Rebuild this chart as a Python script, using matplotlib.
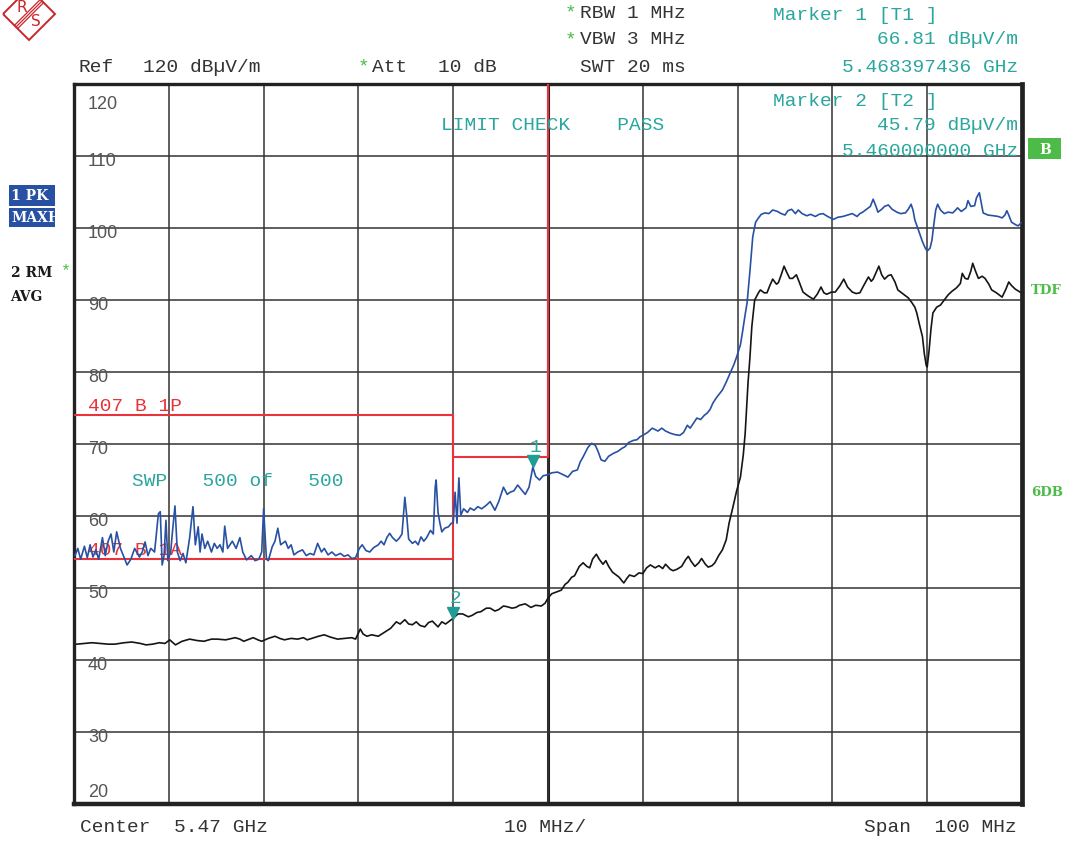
import matplotlib.pyplot as plt
from matplotlib.patches import Polygon, Rectangle
from matplotlib.transforms import offset_copy, blended_transform_factory

W, H = 1069, 843

# sweep settings
START_GHZ = 5.42
SPAN_MHZ = 100
REF_LEVEL = 120
BOTTOM_LEVEL = 20
y_labels = [120, 110, 100, 90, 80, 70, 60, 50, 40, 30, 20]

# trace 1 (PK, max hold): (MHz from span start, dBuV/m)
pk_points = [
    (0.1, 54.5), (0.4, 55.5), (0.7, 54.0), (1.1, 55.8), (1.4, 54.2), (1.7, 56.0),
    (2.0, 54.3), (2.3, 55.3), (2.6, 54.0), (3.0, 57.0), (3.3, 54.5), (3.6, 56.5),
    (3.9, 57.5), (4.2, 55.0), (4.5, 57.8), (4.9, 55.5), (5.3, 54.2), (5.6, 53.2),
    (6.0, 54.0), (6.4, 55.5), (6.9, 54.3), (7.2, 55.0), (7.5, 56.4), (7.8, 54.5),
    (8.1, 55.5), (8.5, 55.0), (8.9, 60.3), (9.1, 60.6), (9.3, 53.2), (9.5, 54.5),
    (9.7, 59.4), (9.9, 53.8), (10.2, 55.0), (10.4, 58.0), (10.65, 61.4), (10.9, 55.0),
    (11.2, 53.8), (11.5, 54.8), (11.8, 53.5), (12.2, 57.0), (12.55, 61.3), (12.8, 56.0),
    (13.1, 58.5), (13.3, 55.0), (13.5, 57.5), (13.8, 55.5), (14.1, 56.5), (14.5, 55.0),
    (14.8, 56.2), (15.1, 55.5), (15.4, 56.0), (15.7, 55.0), (15.9, 58.6), (16.2, 55.5),
    (16.7, 56.5), (17.1, 55.5), (17.5, 57.0), (17.8, 55.0), (18.2, 53.9), (18.7, 54.5),
    (19.1, 53.8), (19.5, 54.0), (19.8, 55.0), (20.0, 61.0), (20.3, 54.0), (20.5, 53.8),
    (20.9, 55.7), (21.2, 56.5), (21.5, 58.3), (21.8, 56.0), (22.3, 56.5), (22.6, 55.5),
    (22.9, 56.0), (23.2, 54.6), (23.6, 55.0), (24.1, 55.3), (24.5, 54.5), (24.9, 54.8),
    (25.3, 54.6), (25.7, 56.2), (26.1, 55.0), (26.4, 55.5), (26.8, 54.6), (27.2, 55.0),
    (27.6, 54.5), (28.1, 54.8), (28.5, 54.4), (28.9, 54.6), (29.3, 54.1), (29.7, 54.2),
    (30.1, 55.5), (30.4, 56.0), (30.8, 55.2), (31.2, 55.0), (31.6, 55.6), (32.1, 56.0),
    (32.4, 56.5), (32.7, 56.0), (33.0, 57.0), (33.3, 57.6), (33.6, 57.0), (34.0, 56.5),
    (34.3, 56.9), (34.6, 57.5), (34.9, 62.6), (35.1, 60.0), (35.3, 56.8), (35.7, 56.2),
    (36.0, 56.5), (36.3, 56.0), (36.6, 57.1), (36.9, 56.5), (37.2, 57.0), (37.6, 58.0),
    (37.9, 57.5), (38.1, 64.0), (38.2, 65.0), (38.4, 60.5), (38.6, 59.0), (38.8, 57.8),
    (39.1, 58.3), (39.5, 58.5), (39.8, 59.0), (40.0, 59.0), (40.2, 63.3), (40.4, 59.0),
    (40.6, 65.3), (40.8, 60.1), (41.1, 61.0), (41.5, 60.5), (41.8, 61.1), (42.2, 60.8),
    (42.6, 61.3), (43.0, 61.0), (43.5, 61.5), (43.9, 62.0), (44.4, 60.8), (44.8, 62.0),
    (45.3, 64.0), (45.7, 63.0), (46.0, 63.3), (46.4, 63.5), (46.8, 64.3), (47.3, 63.5),
    (47.6, 63.0), (48.0, 64.0), (48.4, 66.8), (48.7, 65.5), (49.1, 65.0), (49.5, 65.6),
    (49.9, 65.7), (50.4, 66.0), (51.0, 66.1), (51.5, 65.8), (52.1, 65.4), (52.6, 66.2),
    (53.1, 66.4), (53.4, 67.5), (53.7, 68.2), (54.2, 69.5), (54.6, 70.1), (55.0, 69.8),
    (55.3, 68.9), (55.6, 67.8), (56.0, 67.6), (56.4, 68.3), (56.9, 68.7), (57.4, 69.0),
    (57.8, 69.4), (58.1, 69.6), (58.5, 70.2), (59.0, 70.5), (59.4, 70.6), (59.7, 71.0),
    (60.0, 71.2), (60.5, 71.6), (61.0, 72.2), (61.6, 71.8), (62.0, 72.2), (62.4, 71.8),
    (62.9, 71.5), (63.4, 71.3), (63.9, 71.2), (64.3, 71.6), (64.7, 72.6), (65.0, 72.2),
    (65.4, 73.0), (65.7, 73.6), (66.1, 73.4), (66.5, 74.0), (66.8, 74.3), (67.1, 74.8),
    (67.4, 75.7), (67.8, 76.5), (68.4, 77.5), (68.8, 78.6), (69.2, 79.8), (69.6, 81.0),
    (69.9, 82.1), (70.3, 83.8), (70.5, 85.4), (70.8, 88.0), (71.0, 89.6), (71.3, 94.0),
    (71.6, 98.8), (71.9, 100.8), (72.2, 101.4), (72.5, 101.9), (72.9, 102.1), (73.3, 102.0),
    (73.7, 102.5), (74.2, 102.3), (74.6, 102.0), (75.0, 101.8), (75.3, 102.4), (75.7, 102.6),
    (76.1, 102.0), (76.4, 102.5), (76.8, 102.0), (77.3, 101.7), (77.7, 101.9), (78.2, 101.6),
    (78.6, 101.9), (79.0, 102.0), (79.5, 101.6), (80.1, 101.2), (80.6, 101.5), (81.1, 101.6),
    (81.6, 101.8), (82.1, 102.0), (82.6, 101.6), (82.9, 102.0), (83.2, 102.2), (83.6, 102.6),
    (84.0, 103.0), (84.3, 104.0), (84.6, 103.0), (84.8, 102.2), (85.2, 102.6), (85.5, 103.0),
    (85.9, 103.2), (86.3, 102.6), (86.8, 102.2), (87.2, 102.0), (87.7, 102.1), (88.0, 102.6),
    (88.3, 103.3), (88.5, 102.5), (88.7, 101.1), (89.0, 100.0), (89.5, 98.1), (89.8, 97.2),
    (90.0, 96.8), (90.3, 97.2), (90.5, 98.3), (90.7, 100.5), (90.9, 102.5), (91.1, 103.3),
    (91.4, 102.5), (91.8, 102.0), (92.2, 102.2), (92.7, 102.1), (93.0, 102.5), (93.2, 102.8),
    (93.6, 102.3), (94.1, 102.8), (94.3, 103.8), (94.6, 103.0), (95.0, 103.1), (95.2, 104.2),
    (95.5, 104.9), (95.7, 103.5), (95.9, 102.1), (96.4, 101.8), (97.0, 101.7), (97.5, 101.6),
    (97.9, 101.4), (98.2, 101.8), (98.4, 102.4), (98.6, 101.8), (98.9, 100.8), (99.4, 100.4),
    (99.6, 100.3), (99.9, 100.7),
]

# trace 2 (RM, average)
avg_points = [
    (0.3, 42.2), (1.1, 42.3), (1.9, 42.4), (2.7, 42.3), (3.6, 42.2), (4.3, 42.2),
    (5.3, 42.4), (6.1, 42.5), (7.0, 42.3), (7.6, 42.1), (8.3, 42.2), (9.0, 42.4),
    (9.6, 42.3), (10.1, 42.8), (10.7, 42.1), (11.4, 42.6), (12.2, 42.9), (13.0, 42.7),
    (13.7, 42.6), (14.5, 42.9), (15.1, 42.9), (16.0, 42.8), (17.0, 43.1), (17.5, 42.9),
    (17.9, 42.6), (18.5, 42.9), (18.9, 43.1), (19.4, 42.8), (19.8, 42.6), (20.5, 43.0),
    (21.2, 43.3), (21.7, 43.0), (22.2, 42.8), (22.9, 43.0), (23.6, 42.9), (24.2, 43.1),
    (24.6, 42.8), (25.3, 43.1), (25.8, 43.3), (26.4, 43.5), (27.0, 43.2), (27.8, 42.9),
    (28.6, 43.0), (29.3, 43.1), (29.7, 42.9), (30.2, 44.3), (30.5, 43.6), (30.9, 43.3),
    (31.4, 43.5), (32.1, 43.3), (32.7, 43.8), (33.4, 44.4), (34.0, 45.3), (34.4, 45.0),
    (34.9, 45.6), (35.3, 45.0), (35.7, 44.9), (36.1, 45.3), (36.5, 44.8), (37.0, 44.6),
    (37.4, 45.2), (37.8, 45.4), (38.4, 44.6), (38.8, 45.3), (39.2, 45.0), (39.7, 45.5),
    (40.0, 45.8), (40.5, 46.4), (41.0, 46.4), (41.6, 46.0), (42.0, 46.2), (42.5, 46.6),
    (42.9, 46.7), (43.5, 47.2), (43.9, 47.2), (44.4, 46.8), (44.8, 47.0), (45.3, 47.5),
    (45.7, 47.4), (46.2, 47.2), (46.6, 47.3), (47.0, 47.6), (47.6, 47.8), (48.2, 47.3),
    (48.7, 47.6), (49.3, 47.5), (49.7, 47.9), (50.0, 48.6), (50.4, 49.2), (50.8, 49.4),
    (51.4, 49.7), (51.8, 50.5), (52.1, 50.8), (52.5, 51.5), (52.8, 51.7), (53.3, 53.0),
    (53.7, 53.5), (54.1, 53.0), (54.4, 52.8), (54.7, 54.0), (55.1, 54.7), (55.4, 54.0),
    (55.8, 53.3), (56.1, 53.8), (56.4, 53.0), (56.8, 52.2), (57.2, 51.8), (57.5, 51.5),
    (57.8, 51.0), (58.0, 50.7), (58.3, 51.3), (58.6, 51.8), (59.1, 51.6), (59.6, 52.1),
    (60.0, 52.0), (60.4, 52.8), (60.8, 53.2), (61.3, 52.8), (61.7, 53.1), (62.1, 52.7),
    (62.4, 53.3), (62.9, 52.6), (63.2, 52.4), (63.6, 52.6), (64.1, 53.0), (64.5, 53.9),
    (64.8, 54.4), (65.1, 53.7), (65.5, 53.0), (65.9, 53.5), (66.2, 54.1), (66.6, 53.3),
    (66.9, 52.9), (67.3, 53.1), (67.6, 53.5), (68.0, 54.5), (68.4, 55.3), (68.8, 56.7),
    (69.1, 59.0), (69.5, 61.2), (69.9, 63.5), (70.3, 65.4), (70.6, 68.5), (70.8, 71.5),
    (71.1, 78.5), (71.3, 82.0), (71.5, 86.3), (71.8, 90.0), (72.2, 91.0), (72.4, 91.4),
    (72.8, 91.0), (73.1, 91.0), (73.4, 92.0), (73.7, 92.9), (74.1, 92.2), (74.3, 92.4),
    (74.6, 93.5), (74.9, 94.7), (75.2, 93.8), (75.5, 93.0), (75.8, 93.0), (76.2, 93.5),
    (76.5, 92.5), (76.9, 91.1), (77.4, 90.6), (78.0, 90.1), (78.4, 90.8), (78.8, 91.8),
    (79.1, 91.0), (79.4, 90.8), (79.9, 91.1), (80.3, 91.1), (80.8, 92.0), (81.2, 92.9),
    (81.6, 91.8), (82.1, 91.1), (82.5, 90.9), (82.9, 91.0), (83.3, 92.0), (83.8, 93.2),
    (84.1, 92.6), (84.3, 92.9), (84.6, 93.8), (84.9, 94.7), (85.2, 93.5), (85.5, 92.9),
    (85.9, 93.4), (86.2, 93.5), (86.6, 92.5), (86.9, 91.4), (87.4, 90.9), (88.0, 90.3),
    (88.4, 89.6), (88.7, 89.0), (88.9, 88.2), (89.2, 86.5), (89.5, 84.9), (89.7, 82.5),
    (89.9, 80.9), (90.0, 80.7), (90.2, 83.0), (90.4, 86.0), (90.6, 88.2), (91.0, 89.0),
    (91.4, 89.3), (91.8, 90.0), (92.2, 90.7), (92.6, 91.2), (93.1, 91.7), (93.5, 92.3),
    (93.7, 93.7), (94.0, 93.0), (94.3, 92.9), (94.6, 94.0), (94.8, 95.1), (95.1, 94.0),
    (95.4, 93.0), (95.8, 93.3), (96.1, 93.0), (96.5, 92.2), (96.8, 91.4), (97.3, 91.0),
    (97.9, 90.4), (98.3, 91.5), (98.6, 92.5), (98.9, 92.0), (99.3, 91.5), (99.8, 91.1),
]

# limit lines 407 B 1P (peak) and 407 B 1A (average)
limit_peak_freq = [0, 40, 40, 50, 50]
limit_peak_level = [74, 74, 68.2, 68.2, 130]
limit_avg_freq = [0, 40, 40]
limit_avg_level = [54, 54, 74]

# markers
marker_freq = [48.397436, 40.0]
marker_level = [66.81, 45.79]
marker_names = ["1", "2"]

TEAL = "#2aa69e"
RED = "#e8333c"
GREEN = "#4cbb47"
BLUE = "#2851a3"
TXT = "#333333"
MONO = "Liberation Mono"


def fx(x):
    return x / W


def fy(y):
    return 1 - y / H


fig = plt.figure(figsize=(W / 100, H / 100), dpi=100)
ax = fig.add_axes([fx(74), fy(804), (1022 - 74) / W, (804 - 84) / H])
ax.set_xlim(0, SPAN_MHZ)
ax.set_ylim(BOTTOM_LEVEL, REF_LEVEL)
ax.set_xticks(range(0, SPAN_MHZ + 1, 10))
ax.set_yticks(y_labels)
ax.tick_params(length=0, labelbottom=False, labelleft=False)
ax.grid(True, color="#333333", lw=1.1)
ax.axvline(SPAN_MHZ / 2, color="#222222", lw=2.2, zorder=1)
for side, lw in [("left", 2.4), ("top", 2.4), ("right", 3.4), ("bottom", 3.2)]:
    ax.spines[side].set_linewidth(lw)
    ax.spines[side].set_color("#222222")

# y labels inside the grid
lab_tr = blended_transform_factory(ax.transAxes, ax.transData)
for v in y_labels:
    if v == REF_LEVEL:
        yy = v - 2.9
    elif v == BOTTOM_LEVEL:
        yy = v + 1.6
    else:
        yy = v - 0.75
    ax.text(0.0148, yy, str(v), transform=lab_tr, fontsize=13, color="#555555",
            family="Liberation Sans", va="center", ha="left")

# limit lines
ax.plot(limit_peak_freq, limit_peak_level, color=RED, lw=1.5, zorder=3)
ax.plot(limit_avg_freq, limit_avg_level, color=RED, lw=1.5, zorder=3)
ax.annotate("407 B 1P", (limit_peak_freq[0], limit_peak_level[0]), xytext=(10, 6),
            textcoords="offset points", color=RED, family=MONO, fontsize=14, va="center")
ax.annotate("407 B 1A", (limit_avg_freq[0], limit_avg_level[0]), xytext=(10, 6.5),
            textcoords="offset points", color=RED, family=MONO, fontsize=14, va="center",
            zorder=2)

# traces
pk_f, pk_v = zip(*pk_points)
avg_f, avg_v = zip(*avg_points)
ax.plot(pk_f, pk_v, color=BLUE, lw=1.2, zorder=4)
ax.plot(avg_f, avg_v, color="#151515", lw=1.2, zorder=4)

# markers
tri_tr = offset_copy(ax.transData, fig=fig, y=4, units="points")
ax.plot(marker_freq, marker_level, ls="none", marker="v", color="#1f9c95",
        markersize=8, transform=tri_tr, zorder=5)
for f, v, n in zip(marker_freq, marker_level, marker_names):
    ax.annotate(n, (f, v), xytext=(2, 14), textcoords="offset points", color=TEAL,
                family=MONO, fontsize=14, ha="center", va="center", zorder=5)

# header
hdr = dict(family=MONO, fontsize=14, va="center")
fig.text(fx(78), fy(67), "Ref", color=TXT, **hdr)
fig.text(fx(143), fy(67), "120 dB\u00b5V/m", color=TXT, **hdr)
fig.text(fx(358), fy(67), "*", color=GREEN, **hdr)
fig.text(fx(372), fy(67), "Att", color=TXT, **hdr)
fig.text(fx(438), fy(67), "10 dB", color=TXT, **hdr)
fig.text(fx(565), fy(13), "*", color=GREEN, **hdr)
fig.text(fx(580), fy(13), "RBW 1 MHz", color=TXT, **hdr)
fig.text(fx(565), fy(40), "*", color=GREEN, **hdr)
fig.text(fx(580), fy(40), "VBW 3 MHz", color=TXT, **hdr)
fig.text(fx(580), fy(67), "SWT 20 ms", color=TXT, **hdr)

fig.text(fx(773), fy(15), "Marker 1 [T1 ]", color=TEAL, **hdr)
fig.text(fx(1018), fy(40), "66.81 dB\u00b5V/m", color=TEAL, ha="right", **hdr)
fig.text(fx(1018), fy(67), "5.468397436 GHz", color=TEAL, ha="right", **hdr)
fig.text(fx(773), fy(101), "Marker 2 [T2 ]", color=TEAL, **hdr)
fig.text(fx(1018), fy(126), "45.79 dB\u00b5V/m", color=TEAL, ha="right", **hdr)
fig.text(fx(1018), fy(151), "5.460000000 GHz", color=TEAL, ha="right", **hdr)

fig.text(fx(441), fy(125), "LIMIT CHECK    PASS", color=TEAL, **hdr)
fig.text(fx(132), fy(481), "SWP   500 of   500", color=TEAL, **hdr)

# footer
fig.text(fx(80), fy(828), "Center  5.47 GHz", color=TXT, **hdr)
fig.text(fx(504), fy(828), "10 MHz/", color=TXT, **hdr)
fig.text(fx(1017), fy(828), "Span  100 MHz", color=TXT, ha="right", **hdr)

# trace labels on the left
for y0, y1, label in [(185, 206, "1 PK"), (208, 227, "MAXH")]:
    fig.add_artist(Rectangle((fx(9), fy(y1)), (55 - 9) / W, (y1 - y0) / H,
                             transform=fig.transFigure, color=BLUE, lw=0))
    fig.text(fx(11), fy((y0 + y1) / 2), label, color="white", family="DejaVu Serif",
             fontsize=10, fontweight="bold", va="center")
fig.text(fx(11), fy(273), "2 RM", color="#1a1a1a", family="DejaVu Serif",
         fontsize=10, fontweight="bold", va="center")
fig.text(fx(61), fy(271), "*", color=GREEN, family=MONO, fontsize=12, va="center")
fig.text(fx(10), fy(297), "AVG", color="#1a1a1a", family="DejaVu Serif",
         fontsize=10, fontweight="bold", va="center")

# right side labels
fig.add_artist(Rectangle((fx(1028), fy(159)), 33 / W, 21 / H,
                         transform=fig.transFigure, color=GREEN, lw=0))
fig.text(fx(1045), fy(150), "B", color="white", family="DejaVu Serif",
         fontsize=10, fontweight="bold", ha="center", va="center")
fig.text(fx(1031), fy(290), "TDF", color=GREEN, family="DejaVu Serif",
         fontsize=9.5, fontweight="bold", va="center")
fig.text(fx(1031), fy(493), "6DB", color=GREEN, family="DejaVu Serif",
         fontsize=9.5, fontweight="bold", va="center")

# logo
logo = fig.add_axes([0, fy(45), 60 / W, 45 / H])
logo.set_xlim(0, 60)
logo.set_ylim(45, 0)
logo.axis("off")
logo.add_patch(Polygon([(3, 14), (29, -12), (55, 14), (29, 40)], closed=True,
                       fill=False, edgecolor="#c8262e", lw=1.4))
for k in (-1.6, 0, 1.6):
    logo.plot([42 + k, 16 + k], [1 + k, 27 + k], color="#c8262e", lw=0.9)
logo.text(22, 8, "R", color="#c8262e", fontsize=11, ha="center", va="center",
          family="DejaVu Sans")
logo.text(36, 22, "S", color="#c8262e", fontsize=11, ha="center", va="center",
          family="DejaVu Sans")

fig.savefig("out.png", dpi=100, facecolor="white")
